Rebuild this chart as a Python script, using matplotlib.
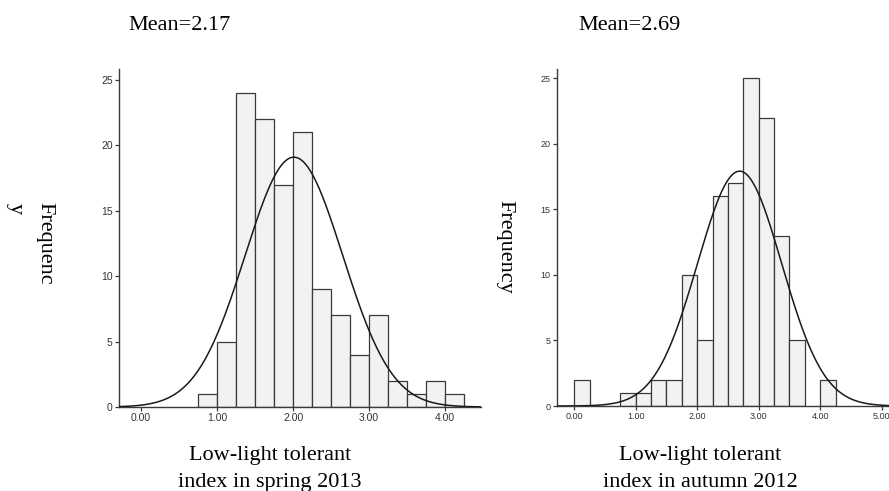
import numpy as np
import matplotlib
matplotlib.use("Agg")
import matplotlib.pyplot as plt

# histogram data (bin width 0.25)
spring_edges = [0.75, 1.00, 1.25, 1.50, 1.75, 2.00, 2.25, 2.50, 2.75, 3.00, 3.25, 3.50, 3.75, 4.00]
spring_counts = [1, 5, 24, 22, 17, 21, 9, 7, 4, 7, 2, 1, 2, 1]
autumn_edges = [0.00, 0.75, 1.00, 1.25, 1.50, 1.75, 2.00, 2.25, 2.50, 2.75, 3.00, 3.25, 3.50, 4.00]
autumn_counts = [2, 1, 1, 2, 2, 10, 5, 16, 17, 25, 22, 13, 5, 2]
bin_width = 0.25

# fitted normal curves (centre / spread as drawn)
spring_fit = (2.01, 0.642)
autumn_fit = (2.69, 0.685)

spring_ticks = [0, 1, 2, 3, 4]
autumn_ticks = [0, 1, 2, 3, 4, 5]
y_ticks = [0, 5, 10, 15, 20, 25]

serif = "Liberation Serif"
sans = "Liberation Sans"
dark = "#3a3a3a"

fig = plt.figure(figsize=(8.89, 4.91), dpi=100)


def panel(rect, edges, counts, fit, xticks, xlim, ylim, tick_size):
    ax = fig.add_axes(rect)
    ax.bar(edges, counts, width=bin_width, align="edge",
           facecolor="#f2f2f2", edgecolor=dark, linewidth=0.9, zorder=2)
    # normal curve scaled to counts
    n = sum(counts)
    mu, sd = fit
    x = np.linspace(xlim[0], xlim[1], 400)
    y = n * bin_width / (sd * np.sqrt(2 * np.pi)) * np.exp(-0.5 * ((x - mu) / sd) ** 2)
    ax.plot(x, y, color="#1a1a1a", linewidth=1.1, zorder=3)

    ax.set_xlim(xlim)
    ax.set_ylim(ylim)
    ax.set_xticks(xticks)
    ax.set_xticklabels(["%.2f" % t for t in xticks])
    ax.set_yticks(y_ticks)
    for s in ["top", "right"]:
        ax.spines[s].set_visible(False)
    for s in ["left", "bottom"]:
        ax.spines[s].set_color(dark)
        ax.spines[s].set_linewidth(1.0)
    ax.tick_params(direction="out", length=3, width=0.9, color=dark,
                   labelcolor="#333333", labelsize=tick_size, pad=1.5)
    for lab in ax.get_xticklabels() + ax.get_yticklabels():
        lab.set_family(sans)
    return ax


panel([119 / 889, 1 - 407 / 491, 362 / 889, 338 / 491],
      spring_edges, spring_counts, spring_fit, spring_ticks,
      (-0.29, 4.47), (0, 25.85), 7.5)
panel([557 / 889, 1 - 406 / 491, 332 / 889, 337 / 491],
      autumn_edges, autumn_counts, autumn_fit, autumn_ticks,
      (-0.28, 5.12), (0, 25.7), 6.5)

# texts
fig.text(128 / 889, 1 - 30 / 491, "Mean=2.17", family=serif, fontsize=16, va="baseline")
fig.text(578 / 889, 1 - 30 / 491, "Mean=2.69", family=serif, fontsize=16, va="baseline")

fig.text(45 / 889, 1 - 243 / 491, "Frequenc", family=serif, fontsize=16,
         rotation=270, ha="center", va="center")
fig.text(15 / 889, 1 - 209 / 491, "y", family=serif, fontsize=16,
         rotation=270, ha="center", va="center")
fig.text(505 / 889, 1 - 247 / 491, "Frequency", family=serif, fontsize=16,
         rotation=270, ha="center", va="center")

fig.text(270 / 889, 1 - 460 / 491, "Low-light tolerant", family=serif, fontsize=16,
         ha="center", va="baseline")
fig.text(270 / 889, 1 - 487 / 491, "index in spring 2013", family=serif, fontsize=16,
         ha="center", va="baseline")
fig.text(700 / 889, 1 - 460 / 491, "Low-light tolerant", family=serif, fontsize=16,
         ha="center", va="baseline")
fig.text(700 / 889, 1 - 487 / 491, "index in autumn 2012", family=serif, fontsize=16,
         ha="center", va="baseline")

fig.savefig("out.png", dpi=100)
